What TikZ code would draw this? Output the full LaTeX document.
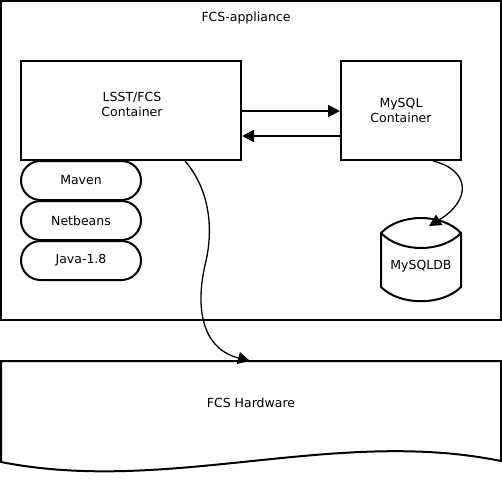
\documentclass[tikz,border=0pt]{standalone}
\usepackage{fontspec}
\setmainfont{DejaVu Sans}
\usepackage{tikz}
\usetikzlibrary{positioning}
\usetikzlibrary{shapes.misc}
\usetikzlibrary{arrows.meta}

\begin{document}
\begin{tikzpicture}[x=1pt, y=-1pt,
    every node/.style={font=\fontsize{12.5}{15}\selectfont, inner sep=0pt},
    box/.style={draw, line width=2pt},
    pill/.style={draw, line width=2pt, rounded rectangle, minimum width=120pt, minimum height=39pt},
    link/.style={-{Triangle[length=12pt, width=12pt]}, line width=2pt},
    curvy/.style={-{Triangle[length=12pt, width=12pt]}, line width=1.3pt}]

                \useasboundingbox (0,0) rectangle (502,479);

                % Nodes
                \node at (251,160.5) (appliance) [box, minimum width=500pt, minimum height=319pt] {};
                \node at (246,21) (appliance_text) [anchor=base] {FCS-appliance};
                \node at (131,110.5) (lsst) [box, minimum width=220pt, minimum height=99pt] {};
                \node at (132,104.7) (lsst_text) [align=center] {LSST/FCS\\Container};
                \node at (401,110.5) (mysql) [box, minimum width=120pt, minimum height=99pt, align=center] {MySQL\\Container};
                \node at (81,180.5) (maven) [pill] {Maven};
                \node at (81,220.5) (netbeans) [pill] {Netbeans};
                \node at (81,260.5) (java) [pill] {Java-1.8};
                \node at (421,266) (db) {MySQLDB};
                \coordinate (db_top) at (429,226);
                \node at (251,403) (hw) {FCS Hardware};
                \coordinate (hw_top) at (250,361);

                % Shapes
                \draw[line width=2pt] (381,233) .. controls (400,213) and (442,213) .. (461,233)
                    -- (461,287) .. controls (442,306) and (400,306) .. (381,287) -- cycle;
                \draw[line width=2pt] (381,233) .. controls (400,253) and (442,253) .. (461,233);
                \draw[line width=2pt] (1,361) -- (501,361) -- (501,461)
                    .. controls (334,427) and (168,495) .. (1,462) -- cycle;

                % Arrows
                \draw[link] ([yshift=-0.5pt]lsst.east) -- ([yshift=-0.5pt]mysql.west);
                \draw[link] ([yshift=-25.5pt]mysql.west) -- ([yshift=-25.5pt]lsst.east);
                \draw[curvy] ([xshift=32pt]mysql.south) .. controls (470,170) and (472,200) .. (db_top);
                \draw[curvy] ([xshift=54pt]lsst.south) .. controls (210,190) and (214,230) .. (205,265)
                    .. controls (196,305) and (200,348) .. (hw_top);

            \end{tikzpicture}
\end{document}
